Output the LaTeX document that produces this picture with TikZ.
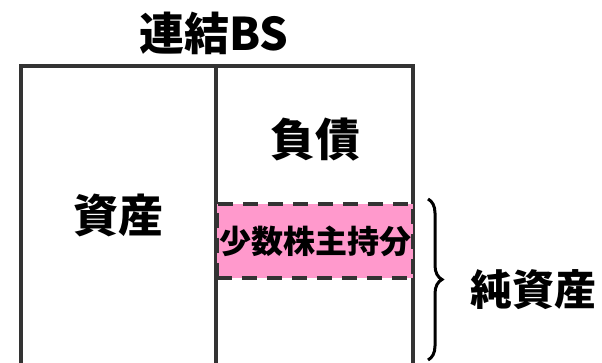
\documentclass[tikz,border=0pt]{standalone}
\usepackage{fontspec}
\setmainfont{Noto Sans CJK JP}[BoldFont={* Black}]
\usetikzlibrary{decorations.pathreplacing}
\definecolor{linegray}{HTML}{333333}
\definecolor{mipink}{HTML}{FF99CC}
\begin{document}
\begin{tikzpicture}[x=1pt,y=-1pt,
  frame/.style={draw=linegray,line width=3.5pt},
  lbl/.style={font=\bfseries\fontsize{45}{48}\selectfont,inner sep=0pt},
  mi/.style={fill=mipink,draw=linegray,line width=4pt,dash pattern=on 15pt off 10pt},
  bracestyle/.style={draw=black,line width=3pt,decorate,decoration={brace,amplitude=14pt}}]
\useasboundingbox (0,0) rectangle (602,363);
\coordinate (tl) at (21,66);
\coordinate (tr) at (413,66);
\coordinate (tm) at (216,66);
\coordinate (bl) at (21,370);
\coordinate (br) at (413,370);
\coordinate (bm) at (216,370);
\draw[frame] (bl) -- (tl) -- (tr) -- (br);
\draw[frame] (tm) -- (bm);
\node[mi,minimum width=196pt,minimum height=74pt,inner sep=0pt] (mi) at (314.5,241) {};
\node[font=\bfseries\fontsize{32}{34}\selectfont,inner sep=0pt] (milbl) at (315,241) {少数株主持分};
\node[lbl] (title) at (214,33) {連結BS};
\node[lbl] (debt) at (315,140) {負債};
\node[lbl] (asset) at (118,215) {資産};
\node[font=\bfseries\fontsize{42}{44}\selectfont,inner sep=0pt] (na) at (533,290) {純資産};
\coordinate (b1) at (428,199);
\coordinate (b2) at (428,360);
\draw[bracestyle] (b1) -- (b2);
\end{tikzpicture}
\end{document}
